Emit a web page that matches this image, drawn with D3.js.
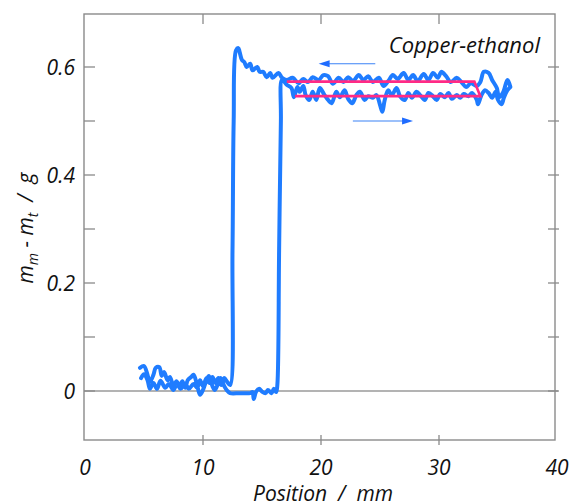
<!DOCTYPE html>
<html>
<head>
<meta charset="utf-8">
<script src="https://cdn.jsdelivr.net/npm/d3@7"></script>
<style>
  html, body { margin: 0; padding: 0; background: #fff; }
  svg { display: block; }
  text { font-family: "Open Sans", "Noto Sans", sans-serif; font-style: italic; fill: #111; }
</style>
</head>
<body>
<svg id="chart" width="574" height="504"></svg>
<script>
// Advancing scan: plate moves forward (left to right)
const advanceX = [4.66, 5.0, 5.26, 5.5, 5.8, 6.0, 6.3, 6.5, 6.7, 7.0, 7.2, 7.5, 7.75, 8.0, 8.25, 8.5, 8.7, 9.0, 9.2, 9.5, 9.75, 10.0, 10.3, 10.5, 10.8, 11.0, 11.3, 11.5, 11.8, 12.0, 12.3,
  13.1, 14.0, 14.2, 14.3, 14.5, 14.76, 15.0, 15.3, 15.5, 15.8, 16.0, 16.2, 16.3, 16.45, 16.6, 16.7,
  17.1, 17.5, 17.7, 18.0, 18.2, 18.5, 18.7, 19.0, 19.3, 19.6, 19.9, 20.3, 20.6, 20.9, 21.3, 21.6, 22.0, 22.3, 22.65, 23.0, 23.3, 23.7, 24.0, 24.4, 24.7, 25.0, 25.2, 25.4, 25.7, 26.0, 26.4, 26.7, 27.1, 27.4, 27.7, 28.1, 28.4, 28.8, 29.1, 29.4, 29.8, 30.1, 30.5, 30.8, 31.1, 31.5, 31.8, 32.1, 32.5, 32.8, 33.2, 33.3, 33.6, 33.9, 34.2, 34.5, 34.8, 35.0, 35.3, 35.5, 35.8, 36.05];
const advanceY = [0.043, 0.046, 0.033, 0.017, 0.030, 0.043, 0.044, 0.028, 0.035, 0.020, 0.026, 0.009, 0.018, 0.009, 0.018, 0.006, 0.020, 0.026, 0.030, 0.011, -0.007, 0.002, 0.020, 0.028, 0.009, 0.002, 0.015, 0.024, 0.009, 0.002, -0.004,
  -0.004, -0.004, -0.002, -0.015, -0.001, 0.004, -0.001, -0.004, 0.002, -0.004, 0.004, -0.002, 0.011, 0.26, 0.50, 0.576,
  0.567, 0.561, 0.544, 0.563, 0.554, 0.565, 0.548, 0.539, 0.554, 0.539, 0.561, 0.548, 0.539, 0.533, 0.554, 0.544, 0.557, 0.541, 0.533, 0.548, 0.554, 0.539, 0.546, 0.543, 0.548, 0.530, 0.517, 0.539, 0.557, 0.548, 0.561, 0.546, 0.539, 0.552, 0.543, 0.554, 0.548, 0.539, 0.552, 0.548, 0.539, 0.550, 0.544, 0.552, 0.541, 0.548, 0.543, 0.550, 0.546, 0.552, 0.539, 0.531, 0.548, 0.557, 0.552, 0.543, 0.554, 0.539, 0.531, 0.543, 0.557, 0.563];

// Receding scan: plate moves back (right to left)
const recedeX = [36.05, 35.8, 35.45, 35.1, 34.9, 34.5, 34.2, 33.8, 33.5, 33.2, 32.7, 32.3, 31.9, 31.5, 31.0, 30.6, 30.2, 29.9, 29.5, 29.1, 28.7, 28.2, 27.8, 27.4, 27.0, 26.5, 26.1, 25.7, 25.3, 24.9, 24.4, 24.0, 23.6, 23.2, 22.7, 22.3, 21.9, 21.5, 21.0, 20.6, 20.2, 19.8, 19.3, 18.9, 18.5, 18.1, 17.6, 17.1, 16.7, 16.4, 15.9, 15.7, 15.4, 15.1, 14.8, 14.6, 14.2, 14.0, 13.7, 13.5, 13.3, 13.1, 13.0, 12.8, 12.6, 12.5, 12.3,
  12.05, 11.8, 11.55, 11.3, 11.05, 10.8, 10.55, 10.3, 10.0, 9.75, 9.5, 9.2, 8.8, 8.5, 8.1, 7.8, 7.5, 7.1, 6.8, 6.4, 6.1, 5.8, 5.5, 5.3, 5.0, 4.75];
const recedeY = [0.563, 0.576, 0.554, 0.544, 0.561, 0.576, 0.589, 0.591, 0.572, 0.565, 0.570, 0.563, 0.572, 0.580, 0.572, 0.583, 0.591, 0.580, 0.589, 0.576, 0.587, 0.574, 0.585, 0.576, 0.589, 0.578, 0.585, 0.574, 0.565, 0.580, 0.572, 0.583, 0.576, 0.585, 0.574, 0.581, 0.572, 0.580, 0.569, 0.583, 0.585, 0.576, 0.581, 0.572, 0.578, 0.570, 0.580, 0.576, 0.580, 0.589, 0.580, 0.589, 0.581, 0.591, 0.591, 0.600, 0.594, 0.606, 0.600, 0.609, 0.613, 0.628, 0.635, 0.631, 0.50, 0.26, 0.011,
  0.017, 0.024, 0.011, 0.024, 0.015, 0.026, 0.015, 0.024, 0.009, 0.020, 0.006, 0.013, 0.004, 0.013, 0.004, 0.013, 0.002, 0.013, 0.006, 0.019, 0.004, 0.015, 0.004, 0.020, 0.031, 0.024];

// Guide loop drawn over the plateau
const loopX = [17.1, 33.0, 33.5, 17.8];
const loopY = [0.573, 0.573, 0.546, 0.546];

// Scan direction arrows [x start, x end, y]
const arrowBack = [24.6, 19.8, 0.606];
const arrowFwd = [22.7, 27.8, 0.50];

const xTicks = [0, 10, 20, 30, 40];
const yTicks = [0, 0.2, 0.4, 0.6];
const yMinor = [0, 0.1, 0.2, 0.3, 0.4, 0.5, 0.6];

const svg = d3.select("#chart");
const plotL = 84, plotR = 555, plotT = 14, plotB = 440;

const x = d3.scaleLinear().domain([0, 40]).range([85, 557]);
const y = d3.scaleLinear().domain([-0.09, 0.7]).range([439.6, 13]);

const frameColor = "#8a8a8a";
const nb = "\u00a0";

// zero line
svg.append("line")
  .attr("x1", plotL).attr("x2", plotR + 3)
  .attr("y1", y(0)).attr("y2", y(0))
  .attr("stroke", "#9a9a9a").attr("stroke-width", 1.6);

// frame
svg.append("rect")
  .attr("x", plotL).attr("y", plotT)
  .attr("width", plotR - plotL).attr("height", plotB - plotT)
  .attr("fill", "none").attr("stroke", frameColor).attr("stroke-width", 1.4);

// left ticks (inward)
svg.append("g").selectAll("line").data(yMinor).join("line")
  .attr("x1", plotL).attr("x2", plotL + 11)
  .attr("y1", d => y(d)).attr("y2", d => y(d))
  .attr("stroke", frameColor).attr("stroke-width", 1.3);
// right ticks (crossing)
svg.append("g").selectAll("line").data(yMinor).join("line")
  .attr("x1", plotR - 7).attr("x2", plotR + 4)
  .attr("y1", d => y(d)).attr("y2", d => y(d))
  .attr("stroke", frameColor).attr("stroke-width", 1.3);
// top ticks (inward)
svg.append("g").selectAll("line").data([10, 20, 30]).join("line")
  .attr("x1", d => x(d)).attr("x2", d => x(d))
  .attr("y1", plotT).attr("y2", plotT + 10)
  .attr("stroke", frameColor).attr("stroke-width", 1.3);
// bottom ticks (crossing)
svg.append("g").selectAll("line").data([10, 20, 30]).join("line")
  .attr("x1", d => x(d)).attr("x2", d => x(d))
  .attr("y1", plotB - 5).attr("y2", plotB + 5)
  .attr("stroke", frameColor).attr("stroke-width", 1.3);

// tick labels
svg.append("g").selectAll("text").data(yTicks).join("text")
  .attr("x", 75).attr("y", d => y(d) + 7.5)
  .attr("text-anchor", "end").attr("font-size", 21)
  .text(d => d === 0 ? "0" : d.toFixed(1));
svg.append("g").selectAll("text").data(xTicks).join("text")
  .attr("x", d => x(d)).attr("y", 475)
  .attr("text-anchor", "middle").attr("font-size", 21)
  .text(d => d);

// axis titles
svg.append("text")
  .attr("x", 323).attr("y", 501)
  .attr("text-anchor", "middle").attr("font-size", 21)
  .text(`Position${nb}${nb}/${nb}${nb}mm`);

const yl = svg.append("text")
  .attr("transform", "translate(33,228) rotate(-90)")
  .attr("text-anchor", "middle").attr("font-size", 21);
yl.append("tspan").text("m");
yl.append("tspan").attr("font-size", 14).attr("dy", 5).text("m");
yl.append("tspan").attr("dy", -5).text(`${nb}-${nb}m`);
yl.append("tspan").attr("font-size", 14).attr("dy", 5).text("t");
yl.append("tspan").attr("dy", -5).text(`${nb}${nb}/${nb}${nb}g`);

svg.append("text")
  .attr("x", 540).attr("y", 53)
  .attr("text-anchor", "end").attr("font-size", 22)
  .text("Copper-ethanol");

// data curve
const line = d3.line().x(d => x(d[0])).y(d => y(d[1]));
const smooth = d3.line().x(d => x(d[0])).y(d => y(d[1])).curve(d3.curveCatmullRom.alpha(0.5));
const pts = advanceX.map((v, i) => [v, advanceY[i]])
  .concat(recedeX.map((v, i) => [v, recedeY[i]]));
svg.append("path")
  .datum(pts)
  .attr("d", smooth)
  .attr("fill", "none")
  .attr("stroke", "#1f7cff")
  .attr("stroke-width", 4)
  .attr("stroke-linejoin", "round")
  .attr("stroke-linecap", "round");

// guide loop
svg.append("path")
  .datum(loopX.map((v, i) => [v, loopY[i]]))
  .attr("d", line)
  .attr("fill", "none")
  .attr("stroke", "#ff2a85")
  .attr("stroke-width", 2.6);

// direction arrows
function arrow(a) {
  const x1 = x(a[0]), x2 = x(a[1]), yy = y(a[2]);
  const dir = Math.sign(x2 - x1);
  svg.append("line")
    .attr("x1", x1).attr("x2", x2 - dir * 8)
    .attr("y1", yy).attr("y2", yy)
    .attr("stroke", "#3b82f6").attr("stroke-width", 1.1);
  svg.append("path")
    .attr("d", `M${x2},${yy} L${x2 - dir * 11},${yy - 3.5} L${x2 - dir * 11},${yy + 3.5} Z`)
    .attr("fill", "#1f6cff");
}
arrow(arrowBack);
arrow(arrowFwd);
</script>
</body>
</html>
